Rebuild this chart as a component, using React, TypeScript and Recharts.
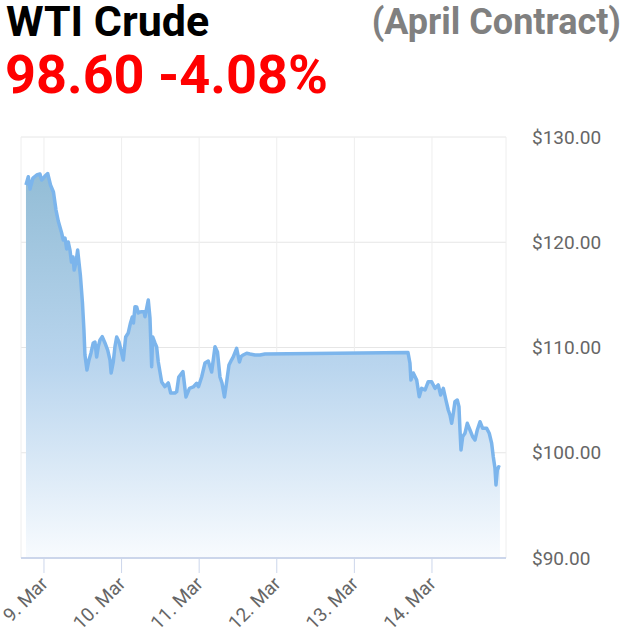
import { AreaChart, Area, XAxis, YAxis, CartesianGrid } from "recharts";

// time in days from 9 Mar 00:00, price in USD
const days = [
  -0.232, -0.202, -0.18, -0.142, -0.094, -0.052, -0.03, 0.013, 0.048, 0.084,
  0.122, 0.155, 0.184, 0.228, 0.249, 0.271, 0.293, 0.313, 0.335, 0.354,
  0.374, 0.389, 0.412, 0.434, 0.47, 0.496, 0.515, 0.528, 0.554, 0.58,
  0.606, 0.635, 0.657, 0.679, 0.7, 0.722, 0.751, 0.786, 0.821, 0.851,
  0.866, 0.893, 0.915, 0.937, 0.966, 0.992, 1.022, 1.053, 1.086, 1.115,
  1.138, 1.153, 1.173, 1.195, 1.215, 1.237, 1.259, 1.289, 1.302, 1.344,
  1.366, 1.388, 1.401, 1.43, 1.452, 1.473, 1.517, 1.559, 1.602, 1.633,
  1.688, 1.71, 1.737, 1.791, 1.83, 1.875, 1.924, 1.968, 1.991, 2.032,
  2.075, 2.117, 2.161, 2.204, 2.236, 2.268, 2.294, 2.326, 2.354, 2.384,
  2.416, 2.439, 2.483, 2.519, 2.539, 2.568, 2.612, 2.655, 2.719, 2.784,
  2.848, 4.691, 4.716, 4.729, 4.759, 4.803, 4.836, 4.867, 4.91, 4.952,
  4.996, 5.039, 5.081, 5.112, 5.146, 5.18, 5.21, 5.232, 5.254, 5.275,
  5.296, 5.326, 5.348, 5.361, 5.374, 5.396, 5.425, 5.455, 5.49, 5.524,
  5.554, 5.584, 5.619, 5.653, 5.705, 5.738, 5.769, 5.79, 5.812, 5.825,
  5.842, 5.86, 5.876,
];

const prices = [
  125.44, 126.23, 125.06, 126.1, 126.39, 126.48, 125.91, 126.29, 126.53, 125.44,
  124.77, 123.06, 122.02, 120.88, 120.21, 120.4, 119.36, 120.02, 119.26, 118.12,
  118.6, 117.36, 118.03, 119.26, 116.79, 114.23, 111.66, 109.29, 107.86, 108.81,
  109.48, 110.43, 110.52, 109.1, 110.08, 110.71, 111.03, 110.43, 109.76, 108.81,
  107.58, 108.62, 110.08, 111.0, 110.55, 109.76, 108.81, 111.0, 111.38, 112.33,
  112.9, 112.33, 113.88, 113.85, 113.28, 113.37, 113.4, 113.4, 112.93, 114.51,
  112.8, 108.18, 111.0, 110.43, 110.05, 108.62, 106.72, 106.28, 106.63, 105.68,
  105.68, 105.8, 107.2, 107.7, 105.3, 106.12, 106.25, 106.6, 106.28, 107.2,
  108.53, 108.72, 107.67, 110.08, 109.57, 107.2, 106.63, 105.3, 106.72, 108.34,
  108.81, 109.1, 109.92, 108.62, 109.13, 109.29, 109.45, 109.38, 109.29, 109.29,
  109.38, 109.52, 108.53, 106.91, 107.58, 106.91, 105.33, 106.12, 105.96, 106.75,
  106.75, 106.12, 106.44, 105.49, 106.12, 105.01, 104.06, 103.59, 102.8, 103.75,
  104.85, 105.01, 104.38, 102.16, 100.26, 101.53, 101.85, 102.8, 102.16, 101.53,
  101.21, 102.16, 102.95, 102.32, 102.32, 101.85, 100.9, 99.62, 98.52, 96.94,
  98.36, 98.67, 98.6,
];

const tickDays = [0, 1, 2, 3, 4, 5];
const tickLabels = ["9. Mar", "10. Mar", "11. Mar", "12. Mar", "13. Mar", "14. Mar"];
const priceTicks = [90, 100, 110, 120, 130];

const rows = days.map((t, i) => ({ t, price: prices[i] }));

const DateTick = (props: any) => {
  const { x, y, payload } = props;
  const label = tickLabels[tickDays.indexOf(payload.value)];
  return (
    <g transform={`translate(${x + 5},${y + 12})`}>
      <text
        transform="rotate(-45)"
        textAnchor="end"
        fontFamily="Roboto"
        fontSize={19}
        fill="#666666"
      >
        {label}
      </text>
    </g>
  );
};

export default function App() {
  return (
    <div style={{ position: "absolute", left: 0, top: 0, width: 625, height: 636, background: "#fff" }}>
      <svg width={625} height={110} style={{ position: "absolute", left: 0, top: 0 }}>
        <text x={6} y={36} fontFamily="Roboto" fontWeight={700} fontSize={43} fill="#000">
          WTI Crude
        </text>
        <text x={5} y={93} fontFamily="Roboto" fontWeight={700} fontSize={54} fill="#ff0000">
          98.60 -4.08%
        </text>
        <text x={621} y={34} textAnchor="end" fontFamily="Roboto" fontWeight={700} fontSize={36} fill="#808080">
          (April Contract)
        </text>
      </svg>
      <div style={{ position: "absolute", left: 0, top: 0 }}>
        <AreaChart
          width={625}
          height={636}
          data={rows}
          margin={{ top: 137, right: 19, bottom: 18, left: 21 }}
        >
          <defs>
            <linearGradient id="wtiFill" x1="0" y1="0" x2="0" y2="1">
              <stop offset="0%" stopColor="#93bdd6" />
              <stop offset="50%" stopColor="#b9d5ee" />
              <stop offset="100%" stopColor="#f8fbfe" />
            </linearGradient>
          </defs>
          <CartesianGrid horizontal vertical={false} stroke="#e6e6e6" />
          <CartesianGrid horizontal={false} vertical stroke="#eeeeee" />
          <XAxis
            dataKey="t"
            type="number"
            domain={[-0.296, 5.954]}
            allowDataOverflow
            ticks={tickDays}
            height={60}
            tickSize={15}
            tickMargin={0}
            axisLine={{ stroke: "#ccd6eb", strokeWidth: 2 }}
            tickLine={{ stroke: "#ccd6eb" }}
            tick={(p: any) => <DateTick {...p} />}
          />
          <YAxis
            orientation="right"
            type="number"
            domain={[90, 130]}
            ticks={priceTicks}
            width={100}
            axisLine={false}
            tickLine={false}
            tickSize={0}
            tickMargin={26}
            tick={{ fontFamily: "Roboto", fontSize: 19, fill: "#666666" }}
            tickFormatter={(v: number) => `$${v.toFixed(2)}`}
          />
          <Area
            type="linear"
            dataKey="price"
            stroke="#7cb5ec"
            strokeWidth={3.5}
            strokeLinejoin="round"
            fill="url(#wtiFill)"
            fillOpacity={1}
            dot={false}
            activeDot={false}
            isAnimationActive={false}
          />
        </AreaChart>
      </div>
    </div>
  );
}
